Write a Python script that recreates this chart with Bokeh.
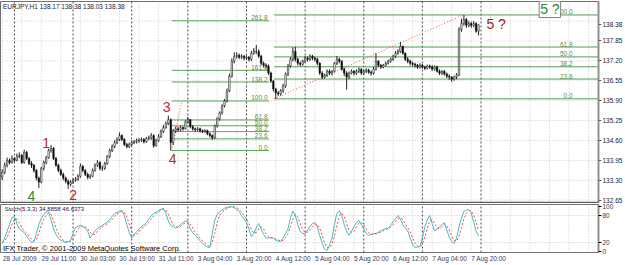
import numpy as np
from bokeh.plotting import figure
from bokeh.layouts import column
from bokeh.models import Range1d, FixedTicker, Label, BoxAnnotation, ColumnDataSource, NumeralTickFormatter
from bokeh.core.properties import value
from bokeh.embed import file_html
from bokeh.resources import INLINE

# ---------------- data (EURJPY H1) ----------------
first_open = 133.40
closes = [133.56,133.79,133.95,133.88,134.01,133.95,134.08,134.11,
          133.88,134.21,134.01,133.85,133.79,133.62,133.37,133.24,
          133.69,133.88,134.04,134.27,134.34,134.01,133.79,133.62,
          133.49,133.37,133.27,133.17,133.24,133.30,133.33,133.43,
          133.75,133.62,133.49,133.40,133.43,133.62,133.79,133.88,
          133.69,133.69,133.85,134.08,134.27,134.40,134.53,134.63,
          134.76,134.63,134.47,134.40,134.47,134.53,134.56,134.60,
          134.60,134.63,134.56,134.66,134.69,134.76,134.43,134.60,
          134.72,134.89,135.02,135.15,135.28,134.53,134.92,134.98,
          134.95,135.02,134.98,135.21,135.28,135.05,134.98,134.95,
          134.98,134.92,134.89,134.92,134.82,134.76,134.69,135.08,
          135.31,135.50,135.73,135.89,136.22,136.70,137.19,137.35,
          137.38,137.32,137.35,137.29,137.32,137.25,137.45,137.51,
          137.51,137.35,137.12,137.06,137.03,136.80,136.54,136.28,
          136.15,136.12,136.22,136.38,136.77,137.03,137.25,137.51,
          137.25,137.12,137.09,137.19,137.29,137.25,137.35,137.29,
          137.25,137.12,136.80,136.67,136.73,136.86,136.80,136.86,
          137.12,137.25,137.19,136.93,136.80,136.67,136.80,136.86,
          136.80,136.86,136.93,136.80,136.86,136.90,136.83,136.80,
          136.93,137.19,137.06,137.00,137.06,137.12,137.19,137.25,
          137.35,137.45,137.51,137.67,137.45,137.25,137.19,137.12,
          137.09,137.06,137.00,137.06,137.00,136.96,137.03,137.00,
          136.93,137.00,136.86,136.80,136.86,136.77,136.70,136.67,
          136.60,136.67,136.73,138.23,138.42,138.55,138.36,138.42,
          138.36,138.42,138.17,138.38]
highs = [133.66,133.88,134.04,134.01,134.11,134.05,134.17,134.21,
         134.16,134.30,134.26,134.06,133.92,133.83,133.66,133.42,
         133.74,133.94,134.10,134.33,134.45,134.38,134.06,133.84,
         133.68,133.55,133.42,133.32,133.30,133.36,133.40,133.50,
         133.85,133.80,133.66,133.55,133.50,133.68,133.85,133.96,
         133.92,133.78,133.90,134.12,134.33,134.47,134.60,134.70,
         134.86,134.80,134.68,134.52,134.53,134.60,134.62,134.66,
         134.68,134.70,134.68,134.72,134.76,134.84,134.80,134.66,
         134.80,134.96,135.10,135.22,135.41,135.32,134.98,135.05,
         135.05,135.08,135.06,135.26,135.36,135.30,135.10,135.02,
         135.04,135.02,134.96,134.97,134.95,134.86,134.80,135.12,
         135.36,135.55,135.78,135.95,136.30,136.78,137.28,137.48,
         137.48,137.44,137.42,137.40,137.38,137.36,137.52,137.62,
         137.72,137.58,137.40,137.18,137.12,137.08,136.85,136.58,
         136.32,136.22,136.28,136.45,136.82,137.10,137.32,137.64,
         137.66,137.30,137.18,137.24,137.36,137.34,137.42,137.40,
         137.34,137.30,137.16,136.86,136.78,136.92,136.92,136.90,
         137.16,137.36,137.30,137.22,136.98,136.86,136.85,136.92,
         136.90,136.92,136.98,136.96,136.92,136.96,136.94,136.88,
         137.00,137.45,137.22,137.10,137.10,137.18,137.24,137.30,
         137.40,137.52,137.58,137.82,137.70,137.48,137.32,137.24,
         137.18,137.14,137.10,137.12,137.10,137.04,137.08,137.08,
         137.06,137.05,137.04,136.92,136.90,136.90,136.82,136.76,
         136.70,136.72,136.80,138.30,138.58,138.70,138.60,138.50,
         138.48,138.50,138.46,138.38]
lows = [133.30,133.50,133.72,133.82,133.84,133.90,133.92,134.02,
        133.83,133.84,133.96,133.80,133.70,133.55,133.30,133.05,
        133.20,133.62,133.82,134.00,134.20,133.96,133.74,133.56,
        133.44,133.30,133.20,133.02,133.10,133.18,133.25,133.28,
        133.38,133.56,133.44,133.33,133.34,133.40,133.58,133.74,
        133.62,133.60,133.64,133.80,134.02,134.22,134.35,134.48,
        134.58,134.58,134.42,134.34,134.35,134.42,134.48,134.50,
        134.52,134.55,134.50,134.52,134.60,134.62,134.36,134.40,
        134.55,134.68,134.84,134.98,135.10,134.27,134.45,134.85,
        134.88,134.90,134.92,134.95,135.15,135.00,134.92,134.88,
        134.90,134.86,134.84,134.85,134.77,134.70,134.62,134.65,
        135.02,135.25,135.44,135.68,135.84,136.18,136.65,137.12,
        137.28,137.26,137.26,137.22,137.24,137.18,137.20,137.40,
        137.42,137.30,137.05,136.98,136.96,136.74,136.48,136.20,
        135.96,136.05,136.06,136.16,136.32,136.70,136.98,137.18,
        137.18,137.05,137.02,137.04,137.14,137.18,137.20,137.22,
        137.18,137.06,136.74,136.60,136.62,136.68,136.74,136.72,
        136.82,137.06,137.12,136.88,136.70,136.26,136.60,136.76,
        136.72,136.74,136.80,136.74,136.76,136.80,136.78,136.72,
        136.75,136.88,137.00,136.94,136.96,137.02,137.08,137.14,
        137.20,137.30,137.40,137.46,137.40,137.20,137.12,137.05,
        137.02,136.98,136.94,136.95,136.94,136.90,136.92,136.94,
        136.88,136.88,136.82,136.74,136.74,136.72,136.64,136.58,
        136.52,136.55,136.60,136.70,138.15,138.35,138.28,138.30,
        138.28,138.30,138.12,138.03]

stoch_k = [18,30,45,60,75,78,62,50,46,42,34,26,20,22,40,60,74,82,88,88,70,50,38,29,
           25,22,20,22,25,40,53,56,58,55,52,45,30,38,46,51,55,58,62,65,71,78,84,87,
           89,91,80,60,42,30,37,44,50,55,59,64,72,79,85,87,91,94,96,85,68,58,55,52,
           55,60,64,68,65,50,42,36,30,24,18,13,10,9,40,70,82,88,92,96,98,99,100,97,
           93,89,80,72,64,50,33,40,52,62,50,38,30,30,31,29,25,23,22,30,40,50,75,90,
           80,60,45,40,40,48,56,62,64,55,35,18,5,3,15,29,60,85,91,80,60,45,36,45,
           55,64,69,60,50,40,36,38,40,40,43,46,49,51,52,58,66,73,80,72,60,52,46,30,
           16,9,10,11,30,55,70,80,62,46,50,55,60,64,48,32,22,18,30,55,75,89,92,93,
           85,65,45,34.89]
stoch_d = [20,24,31,45,60,71,72,63,53,46,41,34,27,23,27,41,58,72,81,86,82,69,53,39,
           31,25,22,21,22,29,39,50,56,56,55,51,42,38,38,45,51,55,58,62,66,71,78,83,
           87,89,87,77,61,44,36,37,44,50,55,59,65,72,79,84,88,91,94,92,83,70,60,55,
           54,56,60,64,66,61,52,43,36,30,24,18,14,11,20,40,64,80,87,92,95,98,99,99,
           97,93,87,80,72,62,49,41,42,51,55,50,39,33,30,30,28,26,23,25,31,40,55,72,
           82,77,62,48,42,43,48,55,61,60,51,36,19,9,8,16,35,58,79,85,77,62,47,42,
           45,55,63,64,60,50,42,38,38,39,41,43,46,49,51,54,59,66,73,75,71,61,53,43,
           31,18,12,10,17,32,52,68,71,63,53,50,55,60,57,48,34,24,23,34,53,73,85,91,
           90,81,65,46.64]

price_ticks = [132.65, 133.30, 133.95, 134.60, 135.25, 135.90, 136.55, 137.20, 137.85, 138.50]
stoch_ticks = [0, 20, 80, 100]
time_ticks = [0, 16, 32, 48, 64, 80, 96, 112, 128, 144, 160, 176, 192]
time_labels = ["28 Jul 2009", "29 Jul 11:00", "30 Jul 03:00", "30 Jul 19:00", "31 Jul 11:00",
               "3 Aug 04:00", "3 Aug 20:00", "4 Aug 12:00", "5 Aug 04:00", "5 Aug 20:00",
               "6 Aug 12:00", "7 Aug 04:00", "7 Aug 20:00"]
day_starts = [5, 29, 53, 76, 100, 124, 148, 172, 196]

# Fibonacci tools (anchor bar, anchor price)
fib_levels_a = [0.0, 23.6, 38.2, 50.0, 61.8, 100.0, 138.2, 161.8, 261.8]
fib_a_x = [69.4, 73.5, 109.3]     # low anchor, high anchor, end of level lines
fib_a_p = [134.27, 135.89]
fib_levels_b = [0.0, 23.6, 38.2, 50.0, 61.8, 100.0]
fib_b_x = [111.3, 188.7]
fib_b_p = [135.96, 138.70]

wave_text = ["1", "2", "3", "4", "4", "5 ?"]
wave_x = [18.0, 29.0, 67.3, 69.8, 11.9, 202.2]
wave_y = [134.53, 132.83, 135.68, 134.01, 132.80, 138.39]
wave_color = ["#c0283c", "#c0283c", "#c0283c", "#9c3a2a", "#2e8b2e", "#a82020"]

last_price = 138.38
stoch_last = (34.8858, 46.6373)

# ---------------- derived ----------------
n = len(closes)
idx = np.arange(n)
opens = [first_open] + closes[:-1]
o = np.array(opens); c = np.array(closes)
up = c >= o
body_top = np.maximum(o, c); body_bot = np.minimum(o, c)

FONT = value("Liberation Sans")
GRID = "#c8c8bc"
SEP = "#4a4a4a"
LABEL_SHIFT = 7.2   # time labels are drawn to the right of their bar, as in the terminal

xr = Range1d(-0.7, 244.1)

p = figure(width=625, height=203, x_range=xr, y_range=Range1d(132.54, 139.14),
           x_axis_location=None, y_axis_location="right", toolbar_location=None,
           output_backend="svg", min_border_left=0, min_border_right=24,
           min_border_top=1, min_border_bottom=0)
p.grid.visible = False
p.outline_line_color = "#707070"
p.background_fill_color = "white"
p.border_fill_color = "white"

ax = p.yaxis[0]
# the top scale label is covered by the current-price marker in the terminal
ax.ticker = FixedTicker(ticks=price_ticks[:-1] + [last_price])
ax.formatter = NumeralTickFormatter(format="0.00")
ax.major_label_text_font = "Liberation Sans"
ax.major_label_text_font_size = "6.5px"
ax.major_label_text_color = "#1a1a30"
ax.major_label_standoff = 1
ax.major_tick_out = 3
ax.major_tick_in = 0
ax.minor_tick_out = 0
ax.minor_tick_in = 0
ax.axis_line_color = "#909090"
ax.axis_line_width = 2
ax.major_tick_line_color = "#606060"

# grid: horizontal dotted at price ticks, vertical dotted every 8 bars
grid_x = list(range(0, 245, 8))
p.segment(x0=[xr.start]*len(price_ticks), x1=[xr.end]*len(price_ticks), y0=price_ticks, y1=price_ticks,
          line_color=GRID, line_dash="1 2", line_width=1)
p.segment(x0=grid_x, x1=grid_x, y0=[132.54]*len(grid_x), y1=[139.14]*len(grid_x),
          line_color=GRID, line_dash="1 2", line_width=1)
p.segment(x0=day_starts, x1=day_starts, y0=[132.54]*len(day_starts), y1=[139.14]*len(day_starts),
          line_color=SEP, line_dash="2 2", line_width=1)

# fib A
fa = [fib_a_p[0] + l / 100.0 * (fib_a_p[1] - fib_a_p[0]) for l in fib_levels_a]
p.segment(x0=[fib_a_x[0]]*len(fa), x1=[fib_a_x[2]]*len(fa), y0=fa, y1=fa, line_color="#5aa65a", line_width=1)
p.text(x=[fib_a_x[2] - 0.7]*len(fa), y=fa, text=[f"{l:.1f}" for l in fib_levels_a],
       text_align="right", text_baseline="bottom", text_font=FONT, text_font_size="6.5px",
       text_color="#5f8a4a", y_offset=-0.5)
p.segment(x0=[fib_a_x[0]], x1=[fib_a_x[1]], y0=[fib_a_p[0]], y1=[fib_a_p[1]],
          line_color="#ff5050", line_dash="1 2", line_width=1)
# fib B
fb = [fib_b_p[0] + l / 100.0 * (fib_b_p[1] - fib_b_p[0]) for l in fib_levels_b]
p.segment(x0=[fib_b_x[0]]*len(fb), x1=[xr.end]*len(fb), y0=fb, y1=fb, line_color="#4e9e4e", line_width=1)
p.text(x=[233.5]*len(fb), y=fb, text=[f"{l:.1f}" for l in fib_levels_b],
       text_align="right", text_baseline="bottom", text_font=FONT, text_font_size="6.5px",
       text_color="#5f8a4a", y_offset=-0.5)
p.segment(x0=[fib_b_x[0]], x1=[fib_b_x[1]], y0=[fib_b_p[0]], y1=[fib_b_p[1]],
          line_color="#ff5050", line_dash="1 2", line_width=1)

# candles
src = ColumnDataSource(dict(x=idx, hi=highs, lo=lows, top=body_top, bot=body_bot,
                            fill=["white" if u else "black" for u in up]))
p.segment(x0="x", x1="x", y0="lo", y1="hi", source=src, line_color="#202020", line_width=1)
p.vbar(x="x", width=0.6, top="top", bottom="bot", source=src, fill_color="fill",
       line_color="#202020", line_width=0.6)

# separator bar at bottom of main panel
p.add_layout(BoxAnnotation(bottom=132.54, top=132.60, fill_color="#5a5a5a", fill_alpha=1, line_color=None))

# wave labels
p.text(x=wave_x, y=wave_y, text=wave_text, text_color=wave_color, text_align="center",
       text_baseline="middle", text_font=FONT, text_font_size="14px")
p.add_layout(Label(x=224.2, y=138.91, text="5 ?", text_color="#2e8b2e", text_font="Liberation Sans",
                   text_font_size="14px", text_align="center", text_baseline="middle",
                   border_line_color="#808080", background_fill_color="white", padding=1))

p.add_layout(Label(x=0.3, y=138.98, text="EURJPY,H1  138.17 138.38 138.03 138.38", text_font="Liberation Sans",
                   text_font_size="6.5px", text_color="#202040", text_baseline="middle"))

# ---------------- stochastic panel ----------------
s = figure(width=625, height=62, x_range=xr, y_range=Range1d(-2.2, 104.4),
           x_axis_location="below", y_axis_location="right", toolbar_location=None,
           output_backend="svg", min_border_left=0, min_border_right=24,
           min_border_top=1, min_border_bottom=13)
s.grid.visible = False
s.outline_line_color = "#707070"
sy = s.yaxis[0]
sy.ticker = FixedTicker(ticks=stoch_ticks)
sy.major_label_text_font = "Liberation Sans"
sy.major_label_text_font_size = "6.5px"
sy.major_label_text_color = "#3a3a58"
sy.major_label_standoff = 1
sy.major_tick_out = 3
sy.major_tick_in = 0
sy.minor_tick_out = 0
sy.minor_tick_in = 0
sy.axis_line_color = "#909090"
sy.axis_line_width = 2
sx = s.xaxis[0]
shifted = [t + LABEL_SHIFT for t in time_ticks]
sx.ticker = FixedTicker(ticks=shifted)
sx.major_label_overrides = {t: l for t, l in zip(shifted, time_labels)}
sx.major_label_text_font = "Liberation Sans"
sx.major_label_text_font_size = "6.5px"
sx.major_label_text_color = "#3a3a58"
sx.major_label_standoff = 2
sx.major_tick_out = 0
sx.major_tick_in = 0
sx.minor_tick_out = 0
sx.minor_tick_in = 0
sx.axis_line_color = None

s.segment(x0=grid_x, x1=grid_x, y0=[-2.2]*len(grid_x), y1=[104.4]*len(grid_x),
          line_color=GRID, line_dash="1 2", line_width=1)
s.segment(x0=[xr.start]*2, x1=[xr.end]*2, y0=[20, 80], y1=[20, 80], line_color=GRID, line_dash="1 2")
s.segment(x0=day_starts, x1=day_starts, y0=[-2.2]*len(day_starts), y1=[104.4]*len(day_starts),
          line_color=SEP, line_dash="2 2", line_width=1)
s.line(idx, stoch_d, line_color="#ff4040", line_dash="2 2", line_width=1)
s.line(idx, stoch_k, line_color="#45b8c8", line_width=1)
s.add_layout(Label(x=1.0, y=95, text=f"Stoch(5,3,3) {stoch_last[0]:.4f} {stoch_last[1]:.4f}",
                   text_font="Liberation Sans", text_font_size="6px", text_color="#202040",
                   text_baseline="middle"))
s.add_layout(Label(x=0.3, y=7, text="IFX Trader, © 2001-2009 MetaQuotes Software Corp.",
                   text_font="Liberation Sans", text_font_size="7.5px", text_color="black",
                   text_baseline="middle"))

layout = column(p, s, spacing=0)
open("out.html", "w").write(file_html(layout, INLINE))
